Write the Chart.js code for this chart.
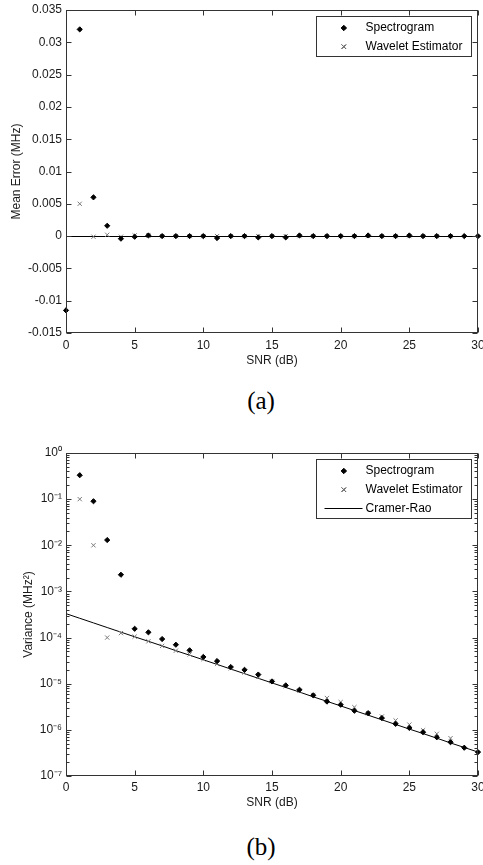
<!DOCTYPE html>
<html>
<head>
<meta charset="utf-8">
<script src="https://cdn.jsdelivr.net/npm/chart.js@4/dist/chart.umd.min.js"></script>
<style>
  html, body { margin:0; padding:0; background:#fff; }
  body { width:483px; height:865px; position:relative; overflow:hidden; }
  .box { position:absolute; left:0; width:483px; }
  .cap { position:absolute; left:0; width:522px; text-align:center; font-family:'Liberation Serif','Times New Roman',serif; font-size:25px; line-height:30px; color:#000; }
</style>
</head>
<body>
<div class="box" style="top:0;height:372px"><canvas id="c1"></canvas></div>
<div class="cap" style="top:386px">(a)</div>
<div class="box" style="top:440px;height:380px"><canvas id="c2"></canvas></div>
<div class="cap" style="top:832px">(b)</div>
<script>
// ---------------- data ----------------
const snr = [0,1,2,3,4,5,6,7,8,9,10,11,12,13,14,15,16,17,18,19,20,21,22,23,24,25,26,27,28,29,30];

const spectroMeanErr = [-0.0115,0.032,0.006,0.0016,-0.0004,-0.0001,0.0001,0,0,0,0,-0.0003,0,0,-0.0002,0,-0.0002,0.0001,0,0,0,0,0.0001,0,0,0.0001,0,0,0,0,0];
const waveletMeanErr = [null,0.005,-0.0001,0.0002,-0.0001,0.0001,0.0001,0,0,0,0,0,0,0,0,0,0,0,0,0,0,0,0,0,0,0,0,0,0,null,null];

const spectroVar = [null,0.33,0.09,0.013,0.0023,1.55e-4,1.3e-4,9.3e-5,7.0e-5,5.3e-5,3.8e-5,3.1e-5,2.3e-5,2.0e-5,1.58e-5,1.12e-5,9.2e-6,7.4e-6,5.6e-6,4.1e-6,3.5e-6,2.6e-6,2.3e-6,1.8e-6,1.35e-6,1.1e-6,8.9e-7,6.9e-7,5.4e-7,4.1e-7,3.3e-7];
const waveletVar = [null,0.1,0.01,1.0e-4,1.25e-4,1.05e-4,8.3e-5,6.6e-5,5.2e-5,4.3e-5,3.4e-5,2.7e-5,2.15e-5,1.75e-5,1.4e-5,1.12e-5,8.8e-6,7.0e-6,5.7e-6,4.9e-6,4.0e-6,3.1e-6,2.3e-6,1.95e-6,1.6e-6,1.3e-6,9.8e-7,8.2e-7,6.6e-7,null,null];
const cramerRao = [3.3e-4,2.62e-4,2.08e-4,1.65e-4,1.31e-4,1.04e-4,8.3e-5,6.6e-5,5.2e-5,4.15e-5,3.3e-5,2.62e-5,2.08e-5,1.65e-5,1.31e-5,1.04e-5,8.3e-6,6.6e-6,5.2e-6,4.15e-6,3.3e-6,2.62e-6,2.08e-6,1.65e-6,1.31e-6,1.04e-6,8.3e-7,6.6e-7,5.2e-7,4.15e-7,3.3e-7];

const snrTicks = [0,5,10,15,20,25,30];
const meanErrTicks = [-0.015,-0.01,-0.005,0,0.005,0.01,0.015,0.02,0.025,0.03,0.035];
const varDecades = [-7,-6,-5,-4,-3,-2,-1,0];
const varMinorSteps = [2,3,4,5,6,7,8,9];

const seriesNames = ['Spectrogram','Wavelet Estimator','Cramer-Rao'];
const titles = { x:'SNR (dB)', yTop:'Mean Error (MHz)', yBottom:'Variance (MHz\u00B2)' };

// ---------------- helpers ----------------
const FONT = "'Liberation Sans', Arial, sans-serif";
const pts = arr => snr.map((x,i)=>({x, y:arr[i]})).filter(p=>p.y!==null);
const sup = {'-':'\u207B','0':'\u2070','1':'\u00B9','2':'\u00B2','3':'\u00B3','4':'\u2074','5':'\u2075','6':'\u2076','7':'\u2077','8':'\u2078','9':'\u2079'};
const toSup = s => String(s).split('').map(c=>sup[c]||c).join('');

function fitY(w){ return s => { s.width = w; s.paddingTop = 0; s.paddingBottom = 0; }; }
function fitX(h){ return s => { s.height = h; s.paddingLeft = 0; s.paddingRight = 0; }; }

const spectroStyle = { pointStyle:'rectRot', pointRadius:2.6, pointBackgroundColor:'#000', pointBorderColor:'#000', pointBorderWidth:1, showLine:false };
const waveletStyle = { pointStyle:'crossRot', pointRadius:3, pointBorderColor:'#7a7a7a', pointBackgroundColor:'#7a7a7a', pointBorderWidth:1, showLine:false };

// inner ticks + box
const innerTicks = {
  id:'innerTicks',
  afterDatasetsDraw(chart){
    const {ctx, chartArea:a} = chart;
    const L = Math.round(a.left)+0.5, R = Math.round(a.right)-0.5, T = Math.round(a.top)+0.5, B = Math.round(a.bottom)-0.5;
    ctx.save();
    ctx.strokeStyle = '#333'; ctx.lineWidth = 1;
    ctx.beginPath();
    const xs = chart.scales.x;
    xs.ticks.forEach(t=>{
      const p = Math.round(xs.getPixelForValue(t.value))+0.5;
      ctx.moveTo(p,B); ctx.lineTo(p,B-5);
      ctx.moveTo(p,T); ctx.lineTo(p,T+5);
    });
    const ys = chart.scales.y;
    ys.ticks.forEach(t=>{
      const len = t.major ? 5 : 3;
      const p = Math.round(ys.getPixelForValue(t.value))+0.5;
      ctx.moveTo(L,p); ctx.lineTo(L+len,p);
      ctx.moveTo(R,p); ctx.lineTo(R-len,p);
    });
    ctx.stroke();
    ctx.strokeRect(L, T, R-L, B-T);
    ctx.restore();
  }
};

// legend box inside plot
const boxLegend = {
  id:'boxLegend',
  afterDraw(chart, args, o){
    const {ctx, chartArea:a} = chart;
    const left = Math.round(a.right - o.right) + 0.5, top = Math.round(a.top + o.top) + 0.5;
    const n = o.items.length;
    const h = Math.round(n*18.7 + 2.6);
    ctx.save();
    ctx.fillStyle = '#fff';
    ctx.fillRect(left, top, o.width, h);
    ctx.strokeStyle = '#333'; ctx.lineWidth = 1;
    ctx.strokeRect(left, top, o.width, h);
    ctx.font = '12px ' + FONT;
    ctx.textBaseline = 'middle'; ctx.textAlign = 'left';
    o.items.forEach((it,i)=>{
      const cy = top + 11.5 + i*18.7;
      const ds = chart.data.datasets[it.ds];
      if (it.type === 'line') {
        ctx.strokeStyle = ds.borderColor; ctx.lineWidth = ds.borderWidth;
        ctx.beginPath(); ctx.moveTo(left+8, Math.round(cy)+0.5); ctx.lineTo(left+46, Math.round(cy)+0.5); ctx.stroke();
      } else {
        Chart.helpers.drawPoint(ctx, {
          pointStyle: ds.pointStyle, radius: ds.pointRadius, borderWidth: ds.pointBorderWidth, rotation:0
        }, left+27.3, cy);
        ctx.fillStyle = ds.pointBackgroundColor; ctx.strokeStyle = ds.pointBorderColor;
        ctx.beginPath();
        Chart.helpers.drawPoint(ctx, {pointStyle: ds.pointStyle, radius: ds.pointRadius, borderWidth: ds.pointBorderWidth, rotation:0}, left+27.3, cy);
      }
      ctx.fillStyle = '#000';
      ctx.fillText(seriesNames[it.ds], left+49, cy);
    });
    ctx.restore();
  }
};

Chart.defaults.font.family = FONT;
Chart.defaults.font.size = 12;
Chart.defaults.color = '#1a1a1a';

const xAxis = (h, tickPad, titlePad) => ({
  type:'linear', min:0, max:30,
  afterBuildTicks: s => { s.ticks = snrTicks.map(v=>({value:v, major:true})); },
  afterFit: fitX(h),
  grid:{ display:false, drawTicks:false },
  border:{ display:false },
  ticks:{ padding:tickPad, autoSkip:false, maxRotation:0, callback: v => String(v) },
  title:{ display:true, text:titles.x, padding:{top:0,bottom:titlePad}, font:{size:12} }
});

// ---------------- chart (a) ----------------
new Chart(document.getElementById('c1'), {
  type:'scatter',
  data:{ datasets:[
    Object.assign({ label:seriesNames[0], data:pts(spectroMeanErr), clip:6 }, spectroStyle),
    Object.assign({ label:seriesNames[1], data:pts(waveletMeanErr), clip:6 }, waveletStyle)
  ]},
  options:{
    responsive:true, maintainAspectRatio:false, animation:false,
    layout:{ padding:{ left:0, top:10, right:3, bottom:0 } },
    plugins:{ legend:{display:false}, tooltip:{enabled:false},
      boxLegend:{ right:162.3, top:6, width:155, items:[{ds:0},{ds:1}] } },
    scales:{
      x: xAxis(39, 5, 4),
      y:{
        type:'linear', min:-0.015, max:0.035,
        afterBuildTicks: s => { s.ticks = meanErrTicks.map(v=>({value:v, major:true})); },
        afterFit: fitY(66),
        grid:{ display:true, drawTicks:false, lineWidth:1,
          color: c => (c.tick && Math.abs(c.tick.value) < 1e-12) ? '#000' : 'rgba(0,0,0,0)' },
        border:{ display:false },
        ticks:{ padding:4, autoSkip:false, callback: v => String(Number(v.toFixed(3))) },
        title:{ display:true, text:titles.yTop, padding:{top:9,bottom:0}, font:{size:12} }
      }
    }
  },
  plugins:[innerTicks, boxLegend]
});

// ---------------- chart (b) ----------------
new Chart(document.getElementById('c2'), {
  type:'scatter',
  data:{ datasets:[
    Object.assign({ label:seriesNames[0], data:pts(spectroVar), clip:6, order:1 }, spectroStyle),
    Object.assign({ label:seriesNames[1], data:pts(waveletVar), clip:6, order:2 }, waveletStyle),
    { label:seriesNames[2], data:pts(cramerRao), showLine:true, pointRadius:0, borderColor:'#000', borderWidth:1, backgroundColor:'#000', clip:2, order:3 }
  ]},
  options:{
    responsive:true, maintainAspectRatio:false, animation:false,
    layout:{ padding:{ left:0, top:13, right:3, bottom:0 } },
    plugins:{ legend:{display:false}, tooltip:{enabled:false},
      boxLegend:{ right:162.3, top:6.3, width:155, items:[{ds:0},{ds:1},{ds:2,type:'line'}] } },
    scales:{
      x: xAxis(44, 4, 10),
      y:{
        type:'logarithmic', min:1e-7, max:1,
        afterBuildTicks: s => {
          const t = [];
          varDecades.forEach(d => {
            t.push({value:Math.pow(10,d), major:true, exp:d});
            if (d < 0) varMinorSteps.forEach(m => t.push({value:m*Math.pow(10,d), major:false}));
          });
          s.ticks = t;
        },
        afterFit: fitY(66),
        grid:{ display:false, drawTicks:false },
        border:{ display:false },
        ticks:{ padding:4, autoSkip:false,
          callback: (v) => {
            const l = Math.log10(v), r = Math.round(l);
            return Math.abs(l - r) < 1e-9 ? '10' + toSup(r) : '';
          } },
        title:{ display:true, text:titles.yBottom, padding:{top:21,bottom:0}, font:{size:12} }
      }
    }
  },
  plugins:[innerTicks, boxLegend]
});
</script>
</body>
</html>
